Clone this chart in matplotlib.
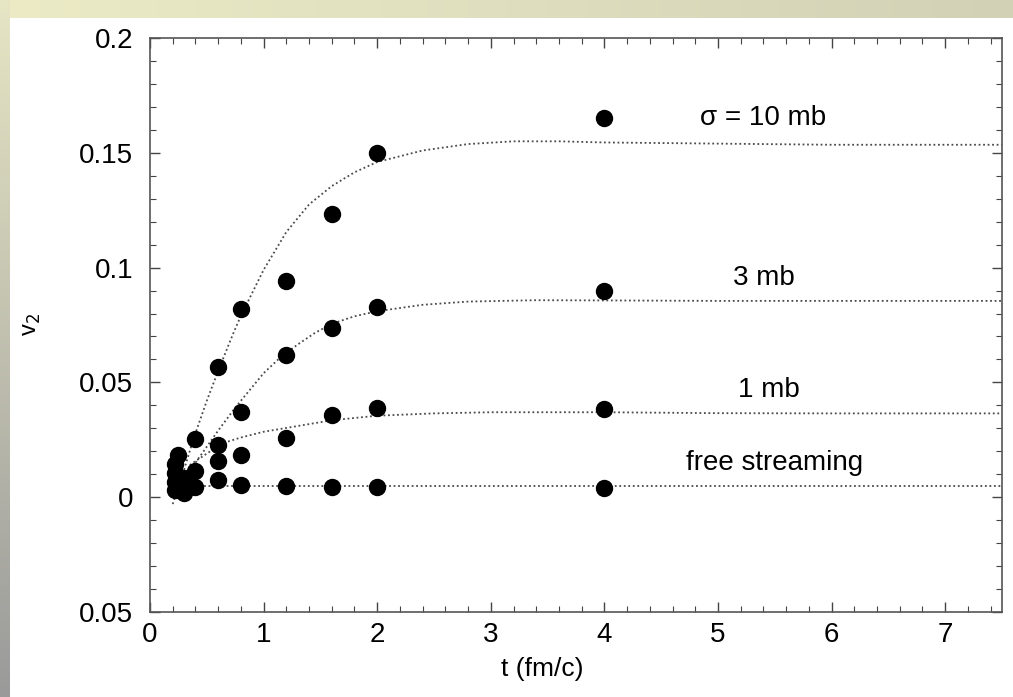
import numpy as np
import matplotlib
matplotlib.use("Agg")
import matplotlib.pyplot as plt
from matplotlib.ticker import MultipleLocator

plt.rcParams['font.family'] = ['Liberation Sans', 'DejaVu Sans']

# measured points (t in fm/c, v2)
t_10 = [0.22, 0.25, 0.4, 0.6, 0.8, 1.2, 1.6, 2.0, 4.0]
v_10 = [0.0145, 0.0185, 0.0252, 0.0566, 0.082, 0.094, 0.1235, 0.150, 0.165]
t_3 = [0.22, 0.3, 0.4, 0.6, 0.8, 1.2, 1.6, 2.0, 4.0]
v_3 = [0.0105, 0.0085, 0.0113, 0.0226, 0.037, 0.0618, 0.0735, 0.0827, 0.0896]
t_1 = [0.22, 0.3, 0.6, 0.8, 1.2, 1.6, 2.0, 4.0]
v_1 = [0.0065, 0.005, 0.0157, 0.0185, 0.0257, 0.0357, 0.039, 0.0383]
t_free = [0.22, 0.3, 0.4, 0.6, 0.8, 1.2, 1.6, 2.0, 4.0]
v_free = [0.003, 0.0017, 0.0044, 0.0074, 0.0052, 0.0048, 0.0044, 0.0044, 0.0039]

# dotted curves
ct_10 = [0.2, 0.3, 0.38, 0.5, 0.6, 0.73, 0.8, 1.0, 1.2, 1.4, 1.6, 1.8, 2.0, 2.4, 2.8, 3.2, 3.6, 4.0, 5.0, 6.0, 7.5]
cv_10 = [-0.003, 0.012, 0.025, 0.042, 0.055, 0.071, 0.079, 0.099, 0.1155, 0.1275, 0.1355, 0.1415, 0.146, 0.151, 0.1538, 0.155, 0.155, 0.1545, 0.154, 0.1535, 0.1535]
ct_3 = [0.3, 0.4, 0.5, 0.6, 0.75, 0.9, 1.0, 1.15, 1.3, 1.45, 1.6, 1.8, 2.0, 2.4, 2.8, 3.4, 4.0, 5.0, 6.0, 7.5]
cv_3 = [0.009, 0.015, 0.022, 0.029, 0.039, 0.048, 0.054, 0.061, 0.0665, 0.0715, 0.0755, 0.0788, 0.081, 0.0838, 0.0852, 0.0858, 0.0857, 0.0855, 0.0855, 0.0855]
ct_1 = [0.35, 0.5, 0.64, 0.8, 1.0, 1.3, 1.6, 2.0, 2.5, 3.0, 4.0, 5.0, 6.0, 7.5]
cv_1 = [0.014, 0.019, 0.0235, 0.026, 0.0285, 0.031, 0.0335, 0.0355, 0.0365, 0.037, 0.037, 0.0366, 0.0365, 0.0365]
ct_free = [0.4, 7.5]
cv_free = [0.0048, 0.0048]

yticks = [-0.05, 0, 0.05, 0.1, 0.15, 0.2]
ytick_labels = ['0.05', '0', '0.05', '0.1', '0.15', '0.2']

fig = plt.figure(figsize=(10.13, 6.97), dpi=100)

# frame decoration (cream band on top, grey band on left)
bg = fig.add_axes([0, 0, 1, 1], zorder=-1)
bg.set_xlim(0, 1013)
bg.set_ylim(697, 0)
bg.axis('off')
top = np.linspace(0, 1, 256).reshape(1, -1)
bg.imshow(top, cmap=matplotlib.colors.LinearSegmentedColormap.from_list('t', ['#ecebc6', '#d2d1b6']),
          extent=[0, 1013, 18, 0], aspect='auto')
left = np.linspace(0, 1, 256).reshape(-1, 1)
bg.imshow(left, cmap=matplotlib.colors.LinearSegmentedColormap.from_list('l', ['#e6e5c4', '#9a9a9a']),
          extent=[0, 10, 697, 0], aspect='auto')

ax = fig.add_axes([150 / 1013, 1 - 612 / 697, 852 / 1013, 574 / 697])

dot = (0, (1, 1.5))
for ct, cv in [(ct_10, cv_10), (ct_3, cv_3), (ct_1, cv_1), (ct_free, cv_free)]:
    ax.plot(ct, cv, color='#4a4a4a', lw=1.3, linestyle=dot)

for t, v in [(t_10, v_10), (t_3, v_3), (t_1, v_1), (t_free, v_free)]:
    ax.plot(t, v, 'o', color='black', markersize=11.5, zorder=3)

ax.text(5.4, 0.165, 'σ = 10 mb', fontsize=20, ha='center', va='center')
ax.text(5.4, 0.0955, '3 mb', fontsize=20, ha='center', va='center')
ax.text(5.45, 0.0465, '1 mb', fontsize=20, ha='center', va='center')
ax.text(5.5, 0.0150, 'free streaming', fontsize=20, ha='center', va='center')

ax.set_xlim(0, 7.5)
ax.set_ylim(-0.05, 0.2)
ax.set_xticks(range(8))
ax.set_yticks(yticks)
ax.set_yticklabels(ytick_labels)
ax.xaxis.set_minor_locator(MultipleLocator(0.2))
ax.yaxis.set_minor_locator(MultipleLocator(0.01))
ax.tick_params(which='both', direction='in', top=True, right=True, labelsize=20, color='#444444')
ax.tick_params(which='major', length=7, width=1)
ax.tick_params(which='minor', length=4, width=0.8)
ax.tick_params(axis='y', pad=12)
ax.tick_params(axis='x', pad=7)
for s in ax.spines.values():
    s.set_color('#555555')
    s.set_linewidth(1.2)

ax.set_xlabel('t (fm/c)', fontsize=19)
ax.xaxis.set_label_coords((542 - 150) / 852, -0.078)
ax.set_ylabel(r'v$_2$', fontsize=17)
ax.yaxis.set_label_coords(-0.125, 0.5)

fig.savefig('out.png', dpi=100)
